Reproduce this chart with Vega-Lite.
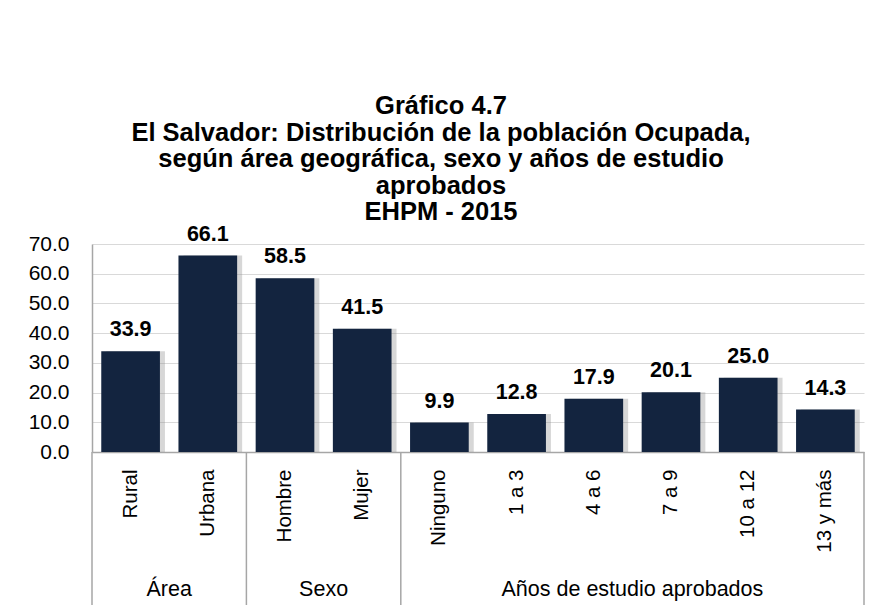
{
  "$schema": "https://vega.github.io/schema/vega-lite/v6.json",
  "autosize": "none",
  "width": 772,
  "height": 208,
  "padding": {"left": 92, "top": 244, "right": 19, "bottom": 161},
  "background": "white",
  "title": {
    "text": ["Gráfico 4.7", "El Salvador: Distribución de la población Ocupada,", "según área geográfica, sexo y años de estudio", "aprobados", "EHPM - 2015"],
    "font": "Liberation Sans, Arial",
    "fontSize": 25.5,
    "fontWeight": "bold",
    "lineHeight": 26.5,
    "color": "#000000",
    "anchor": "middle",
    "dx": -37,
    "offset": -2
  },
  "data": {
    "values": [
      {"cat": "Rural", "group": "Área", "value": 33.9},
      {"cat": "Urbana", "group": "Área", "value": 66.1},
      {"cat": "Hombre", "group": "Sexo", "value": 58.5},
      {"cat": "Mujer", "group": "Sexo", "value": 41.5},
      {"cat": "Ninguno", "group": "Años de estudio aprobados", "value": 9.9},
      {"cat": "1 a 3", "group": "Años de estudio aprobados", "value": 12.8},
      {"cat": "4 a 6", "group": "Años de estudio aprobados", "value": 17.9},
      {"cat": "7 a 9", "group": "Años de estudio aprobados", "value": 20.1},
      {"cat": "10 a 12", "group": "Años de estudio aprobados", "value": 25.0},
      {"cat": "13 y más", "group": "Años de estudio aprobados", "value": 14.3}
    ]
  },
  "encoding": {
    "x": {
      "field": "cat",
      "type": "nominal",
      "sort": null,
      "scale": {"paddingInner": 0, "paddingOuter": 0},
      "axis": {
        "title": null,
        "labelAngle": -90,
        "labelAlign": "right",
        "labelBaseline": "middle",
        "labelPadding": 17,
        "labelFont": "Liberation Sans, Arial",
        "labelFontSize": 20.5,
        "labelColor": "#000000",
        "ticks": false,
        "domainColor": "#a6a6a6",
        "domainWidth": 1.5,
        "grid": false
      }
    }
  },
  "layer": [
    {
      "encoding": {
        "y": {
          "field": "value",
          "type": "quantitative",
          "scale": {"domain": [0, 70]},
          "axis": {"title": null, "values": [0, 10, 20, 30, 40, 50, 60, 70], "format": ".1f"}
        }
      },
      "layer": [
        {
          "mark": {"type": "bar", "color": "#8c8c8c", "opacity": 0.35, "xOffset": 5, "width": {"band": 0.76}}
        },
        {
          "mark": {"type": "bar", "color": "#13243f", "width": {"band": 0.76}}
        },
        {
          "mark": {
            "type": "text",
            "baseline": "bottom",
            "dy": -10,
            "font": "Liberation Sans, Arial",
            "fontSize": 21.5,
            "fontWeight": "bold",
            "color": "#000000"
          },
          "encoding": {
            "text": {"field": "value", "type": "quantitative", "format": ".1f"}
          }
        }
      ]
    },
    {
      "data": {"values": [{"cat": "Rural"}, {"cat": "Hombre"}, {"cat": "Ninguno"}]},
      "mark": {"type": "rule", "color": "#a6a6a6", "strokeWidth": 1.5},
      "encoding": {
        "x": {"field": "cat", "type": "nominal", "bandPosition": 0},
        "y": {"datum": 0, "axis": {"title": null, "values": [0, 10, 20, 30, 40, 50, 60, 70], "format": ".1f"}},
        "y2": {"datum": -51.5}
      }
    },
    {
      "data": {"values": [{"cat": "13 y más"}]},
      "mark": {"type": "rule", "color": "#a6a6a6", "strokeWidth": 1.5},
      "encoding": {
        "x": {"field": "cat", "type": "nominal", "bandPosition": 1},
        "y": {"datum": 0, "axis": {"title": null, "values": [0, 10, 20, 30, 40, 50, 60, 70], "format": ".1f"}},
        "y2": {"datum": -51.5}
      }
    },
    {
      "data": {"values": [
        {"cat": "Urbana", "group": "Área"},
        {"cat": "Mujer", "group": "Sexo"},
        {"cat": "7 a 9", "group": "Años de estudio aprobados"}
      ]},
      "mark": {
        "type": "text",
        "baseline": "middle",
        "font": "Liberation Sans, Arial",
        "fontSize": 21.5,
        "color": "#000000"
      },
      "encoding": {
        "x": {"field": "cat", "type": "nominal", "bandPosition": 0},
        "y": {"datum": -46.4, "axis": {"title": null, "values": [0, 10, 20, 30, 40, 50, 60, 70], "format": ".1f"}},
        "text": {"field": "group"}
      }
    }
  ],
  "config": {
    "view": {"stroke": null},
    "axisY": {
      "labelFont": "Liberation Sans, Arial",
      "labelFontSize": 21,
      "labelColor": "#000000",
      "labelPadding": 23,
      "ticks": false,
      "domainColor": "#a6a6a6",
      "domainWidth": 1.5,
      "grid": true,
      "gridColor": "#d9d9d9",
      "gridWidth": 1.2
    }
  }
}
